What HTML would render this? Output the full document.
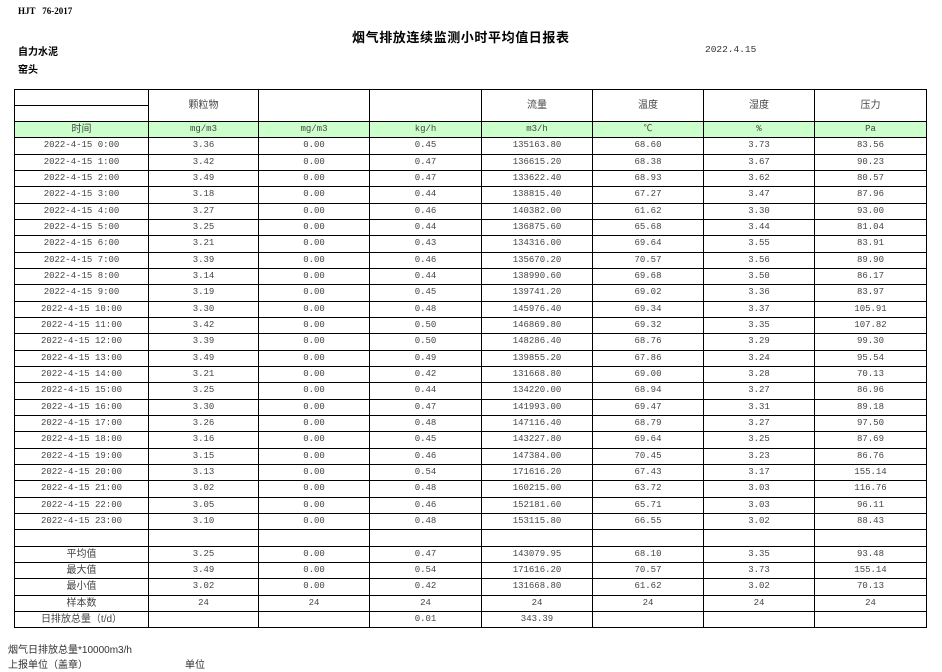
<!DOCTYPE html>
<html><head><meta charset="utf-8"><style>
body{margin:0;width:942px;height:672px;background:#fff;position:relative;overflow:hidden;font-family:"Liberation Mono","Noto Sans CJK SC",monospace;color:#333}
.a{position:absolute;white-space:nowrap}
table{position:absolute;left:14px;top:89px;border-collapse:collapse;table-layout:fixed;width:912px}
td{border:1px solid #000;height:15.33px;padding:0;text-align:center;font-size:9px;line-height:15px;overflow:hidden;white-space:nowrap;font-family:"Liberation Mono","Noto Sans CJK SC",monospace;color:#444}
tr.h td{height:31px;font-size:10px;font-family:"Liberation Sans","Noto Sans CJK SC",sans-serif}
tr.g td{background:#ccffcc}
.cn{font-family:"Liberation Sans","Noto Sans CJK SC",sans-serif;font-size:10px}
</style></head><body>
<div class="a" style="left:18px;top:6px;font:bold 9px 'Liberation Serif',serif;color:#000">HJT&nbsp;&nbsp;&nbsp;76-2017</div>
<div class="a" style="left:352px;top:27px;font:bold 13px 'Liberation Sans','Noto Sans CJK SC',sans-serif;color:#000;letter-spacing:0.6px">烟气排放连续监测小时平均值日报表</div>
<div class="a" style="left:705px;top:44px;font-size:9.5px">2022.4.15</div>
<div class="a" style="left:18px;top:43px;font:bold 10px 'Liberation Sans','Noto Sans CJK SC',sans-serif;color:#000">自力水泥</div>
<div class="a" style="left:18px;top:61px;font:bold 10px 'Liberation Sans','Noto Sans CJK SC',sans-serif;color:#000">窑头</div>
<table>
<colgroup><col style="width:134px"><col style="width:110px"><col style="width:111px"><col style="width:112px"><col style="width:111px"><col style="width:111px"><col style="width:111px"><col style="width:112px"></colgroup>
<tr class="h"><td style="padding:0;position:relative"><div style="position:absolute;left:0;right:0;top:15px;border-top:1px solid #000"></div></td><td>颗粒物</td><td></td><td></td><td>流量</td><td>温度</td><td>湿度</td><td>压力</td></tr>
<tr class="g"><td class="cn">时间</td><td>mg/m3</td><td>mg/m3</td><td>kg/h</td><td>m3/h</td><td>℃</td><td>%</td><td>Pa</td></tr>
<tr><td>2022-4-15 0:00</td><td>3.36</td><td>0.00</td><td>0.45</td><td>135163.80</td><td>68.60</td><td>3.73</td><td>83.56</td></tr>
<tr><td>2022-4-15 1:00</td><td>3.42</td><td>0.00</td><td>0.47</td><td>136615.20</td><td>68.38</td><td>3.67</td><td>90.23</td></tr>
<tr><td>2022-4-15 2:00</td><td>3.49</td><td>0.00</td><td>0.47</td><td>133622.40</td><td>68.93</td><td>3.62</td><td>80.57</td></tr>
<tr><td>2022-4-15 3:00</td><td>3.18</td><td>0.00</td><td>0.44</td><td>138815.40</td><td>67.27</td><td>3.47</td><td>87.96</td></tr>
<tr><td>2022-4-15 4:00</td><td>3.27</td><td>0.00</td><td>0.46</td><td>140382.00</td><td>61.62</td><td>3.30</td><td>93.00</td></tr>
<tr><td>2022-4-15 5:00</td><td>3.25</td><td>0.00</td><td>0.44</td><td>136875.60</td><td>65.68</td><td>3.44</td><td>81.04</td></tr>
<tr><td>2022-4-15 6:00</td><td>3.21</td><td>0.00</td><td>0.43</td><td>134316.00</td><td>69.64</td><td>3.55</td><td>83.91</td></tr>
<tr><td>2022-4-15 7:00</td><td>3.39</td><td>0.00</td><td>0.46</td><td>135670.20</td><td>70.57</td><td>3.56</td><td>89.90</td></tr>
<tr><td>2022-4-15 8:00</td><td>3.14</td><td>0.00</td><td>0.44</td><td>138990.60</td><td>69.68</td><td>3.50</td><td>86.17</td></tr>
<tr><td>2022-4-15 9:00</td><td>3.19</td><td>0.00</td><td>0.45</td><td>139741.20</td><td>69.02</td><td>3.36</td><td>83.97</td></tr>
<tr><td>2022-4-15 10:00</td><td>3.30</td><td>0.00</td><td>0.48</td><td>145976.40</td><td>69.34</td><td>3.37</td><td>105.91</td></tr>
<tr><td>2022-4-15 11:00</td><td>3.42</td><td>0.00</td><td>0.50</td><td>146869.80</td><td>69.32</td><td>3.35</td><td>107.82</td></tr>
<tr><td>2022-4-15 12:00</td><td>3.39</td><td>0.00</td><td>0.50</td><td>148286.40</td><td>68.76</td><td>3.29</td><td>99.30</td></tr>
<tr><td>2022-4-15 13:00</td><td>3.49</td><td>0.00</td><td>0.49</td><td>139855.20</td><td>67.86</td><td>3.24</td><td>95.54</td></tr>
<tr><td>2022-4-15 14:00</td><td>3.21</td><td>0.00</td><td>0.42</td><td>131668.80</td><td>69.00</td><td>3.28</td><td>70.13</td></tr>
<tr><td>2022-4-15 15:00</td><td>3.25</td><td>0.00</td><td>0.44</td><td>134220.00</td><td>68.94</td><td>3.27</td><td>86.96</td></tr>
<tr><td>2022-4-15 16:00</td><td>3.30</td><td>0.00</td><td>0.47</td><td>141993.00</td><td>69.47</td><td>3.31</td><td>89.18</td></tr>
<tr><td>2022-4-15 17:00</td><td>3.26</td><td>0.00</td><td>0.48</td><td>147116.40</td><td>68.79</td><td>3.27</td><td>97.50</td></tr>
<tr><td>2022-4-15 18:00</td><td>3.16</td><td>0.00</td><td>0.45</td><td>143227.80</td><td>69.64</td><td>3.25</td><td>87.69</td></tr>
<tr><td>2022-4-15 19:00</td><td>3.15</td><td>0.00</td><td>0.46</td><td>147384.00</td><td>70.45</td><td>3.23</td><td>86.76</td></tr>
<tr><td>2022-4-15 20:00</td><td>3.13</td><td>0.00</td><td>0.54</td><td>171616.20</td><td>67.43</td><td>3.17</td><td>155.14</td></tr>
<tr><td>2022-4-15 21:00</td><td>3.02</td><td>0.00</td><td>0.48</td><td>160215.00</td><td>63.72</td><td>3.03</td><td>116.76</td></tr>
<tr><td>2022-4-15 22:00</td><td>3.05</td><td>0.00</td><td>0.46</td><td>152181.60</td><td>65.71</td><td>3.03</td><td>96.11</td></tr>
<tr><td>2022-4-15 23:00</td><td>3.10</td><td>0.00</td><td>0.48</td><td>153115.80</td><td>66.55</td><td>3.02</td><td>88.43</td></tr>
<tr><td></td><td></td><td></td><td></td><td></td><td></td><td></td><td></td></tr>
<tr><td class="cn">平均值</td><td>3.25</td><td>0.00</td><td>0.47</td><td>143079.95</td><td>68.10</td><td>3.35</td><td>93.48</td></tr>
<tr><td class="cn">最大值</td><td>3.49</td><td>0.00</td><td>0.54</td><td>171616.20</td><td>70.57</td><td>3.73</td><td>155.14</td></tr>
<tr><td class="cn">最小值</td><td>3.02</td><td>0.00</td><td>0.42</td><td>131668.80</td><td>61.62</td><td>3.02</td><td>70.13</td></tr>
<tr><td class="cn">样本数</td><td>24</td><td>24</td><td>24</td><td>24</td><td>24</td><td>24</td><td>24</td></tr>
<tr><td class="cn">日排放总量（t/d）</td><td></td><td></td><td>0.01</td><td>343.39</td><td></td><td></td><td></td></tr>
</table>
<div class="a" style="left:8px;top:641px;font:10px 'Liberation Sans','Noto Sans CJK SC',sans-serif;color:#333">烟气日排放总量*10000m3/h</div>
<div class="a" style="left:8px;top:656px;font:10px 'Liberation Sans','Noto Sans CJK SC',sans-serif;color:#333">上报单位（盖章）</div>
<div class="a" style="left:185px;top:656px;font:10px 'Liberation Sans','Noto Sans CJK SC',sans-serif;color:#333">单位</div>
</body></html>
